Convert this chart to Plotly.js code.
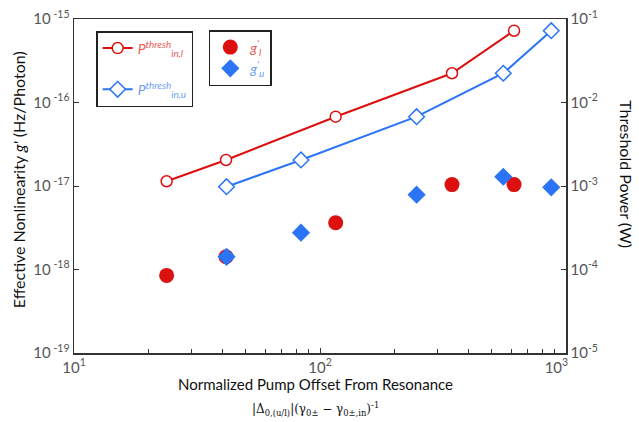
<!DOCTYPE html>
<html>
<head>
<meta charset="utf-8">
<script src="https://cdn.plot.ly/plotly-3.0.1.min.js"></script>
<style>html,body{margin:0;padding:0;background:#fff;}#chart{width:639px;height:422px;}</style>
</head>
<body>
<div id="chart"></div>
<script>
// Normalized pump offset (x) for lower (l) and upper (u) modes
const offsetL = [23.8, 41.5, 115.8, 344, 615];
const offsetU = [41.7, 83.7, 247, 556, 871];
// Threshold power (W), right axis
const pThreshL = [1.14e-3, 2.05e-3, 6.76e-3, 0.0224, 0.0724];
const pThreshU = [0.98e-3, 2.05e-3, 6.76e-3, 0.0224, 0.0724];
// Effective nonlinearity g' (Hz/photon), left axis
const gL = [8.5e-19, 1.42e-18, 3.63e-18, 1.04e-17, 1.04e-17];
const gU = [1.42e-18, 2.76e-18, 7.87e-18, 1.29e-17, 9.64e-18];
// Tick labels
const xTickVals = [10, 100, 1000];
const xTickText = ['10<sup>1</sup>', '10<sup>2</sup>', '10<sup>3</sup>&nbsp;&nbsp;&nbsp;&nbsp;&nbsp;'];
const xMinorVals = [20,30,40,50,60,70,80,90,200,300,400,500,600,700,800,900];
const yTickVals = [1e-19, 1e-18, 1e-17, 1e-16, 1e-15];
const yTickText = ['10<sup> -19</sup>', '10<sup> -18</sup>', '10<sup> -17</sup>', '10<sup> -16</sup>', '10<sup> -15</sup>'];
const y2TickVals = [1e-5, 1e-4, 1e-3, 1e-2, 1e-1];
const y2TickText = ['10<sup>-5</sup>', '10<sup>-4</sup>', '10<sup>-3</sup>', '10<sup>-2</sup>', '10<sup>-1</sup>'];

const RED = '#dd1010';
const BLUE = '#2a74f5';
const FONT = 'Lato, "Open Sans", sans-serif';

const traces = [
  {x: offsetL, y: pThreshL, yaxis: 'y2', mode: 'lines+markers', legend: 'legend', legendgroup: 'pl',
   name: '<span style="color:#ec5a5a"><i>P<sup>thresh</sup><sub>in,l</sub></i></span>',
   line: {color: RED, width: 2},
   marker: {symbol: 'circle', size: 11, color: '#fff', line: {color: RED, width: 1.5}}},
  {x: offsetU, y: pThreshU, yaxis: 'y2', mode: 'lines+markers', legend: 'legend', legendgroup: 'pu',
   name: '<span style="color:#6f9ef5"><i>P<sup>thresh</sup><sub>in,u</sub></i></span>',
   line: {color: BLUE, width: 2},
   marker: {symbol: 'diamond', size: 12, color: '#fff', line: {color: BLUE, width: 1.5}}},
  {x: offsetL, y: gL, yaxis: 'y', mode: 'markers', legend: 'legend2',
   name: '<span style="color:#ec5a5a"><i>g<sup>\'</sup><sub>l</sub></i></span>',
   marker: {symbol: 'circle', size: 15, color: RED}},
  {x: offsetU, y: gU, yaxis: 'y', mode: 'markers', legend: 'legend2',
   name: '<span style="color:#6f9ef5"><i>g<sup>\'</sup><sub>u</sub></i></span>',
   marker: {symbol: 'diamond', size: 14, color: BLUE}}
];

const axisCommon = {
  type: 'log', showgrid: false, zeroline: false, showline: true,
  linecolor: '#333', linewidth: 1.5, ticks: 'inside', ticklen: 5, tickcolor: '#333',
  tickfont: {family: FONT, size: 15, color: '#555'}
};

const layout = {
  width: 639, height: 422,
  margin: {l: 74, r: 73, t: 19, b: 69},
  paper_bgcolor: '#fff', plot_bgcolor: '#fff',
  font: {family: FONT},
  showlegend: true,
  xaxis: Object.assign({}, axisCommon, {
    range: [1, 3], tickvals: xTickVals, ticktext: xTickText, mirror: true,
    minor: {tickvals: xMinorVals, ticks: 'inside', ticklen: 4, tickcolor: '#333'}
  }),
  yaxis: Object.assign({}, axisCommon, {
    range: [-19, -15], tickvals: yTickVals, ticktext: yTickText
  }),
  yaxis2: Object.assign({}, axisCommon, {
    range: [-5, -1], tickvals: y2TickVals, ticktext: y2TickText,
    overlaying: 'y', side: 'right'
  }),
  legend: {x: 0.045, y: 0.964, xanchor: 'left', yanchor: 'top',
    bordercolor: '#222', borderwidth: 1.5, bgcolor: '#fff',
    font: {family: FONT, size: 14}, tracegroupgap: 20, itemwidth: 30},
  legend2: {x: 0.274, y: 0.967, xanchor: 'left', yanchor: 'top',
    bordercolor: '#222', borderwidth: 1.5, bgcolor: '#fff',
    font: {family: FONT, size: 14}, itemwidth: 30},
  annotations: [
    {text: 'Effective Nonlinearity <i>g\'</i> (Hz/Photon)', xref: 'paper', yref: 'paper',
     x: -0.114, y: 0.52, textangle: -90, showarrow: false, xanchor: 'center', yanchor: 'middle',
     font: {family: FONT, size: 16, color: '#111'}},
    {text: 'Threshold Power (W)', xref: 'paper', yref: 'paper',
     x: 1.124, y: 0.535, textangle: 90, showarrow: false, xanchor: 'center', yanchor: 'middle',
     font: {family: FONT, size: 16, color: '#111'}},
    {text: 'Normalized Pump Offset From Resonance', xref: 'paper', yref: 'paper',
     x: 0.49, y: -0.093, showarrow: false, xanchor: 'center', yanchor: 'middle',
     font: {family: FONT, size: 15, color: '#111'}},
    {text: '|Δ<sub>0,(u/l)</sub>|(γ<sub>0±</sub> − γ<sub>0±,in</sub>)<sup>-1</sup>', xref: 'paper', yref: 'paper',
     x: 0.49, y: -0.168, showarrow: false, xanchor: 'center', yanchor: 'middle',
     font: {family: '"DejaVu Serif", serif', size: 12, color: '#111'}}
  ]
};

Plotly.newPlot('chart', traces, layout, {staticPlot: true, displayModeBar: false});
</script>
</body>
</html>
